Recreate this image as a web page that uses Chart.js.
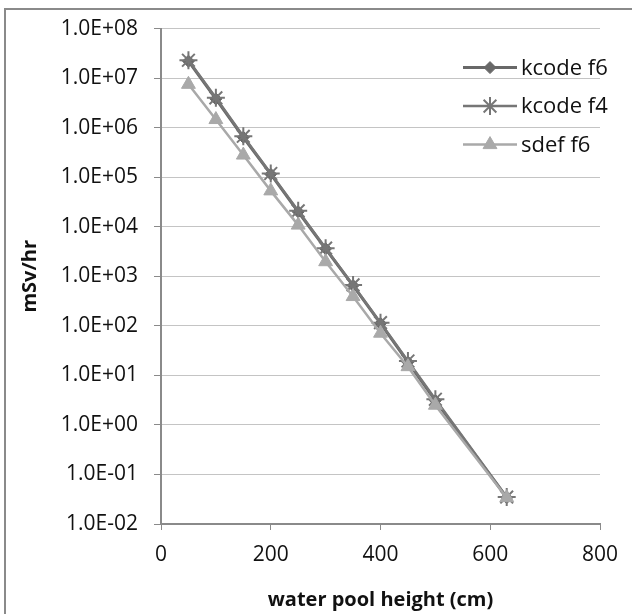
<!DOCTYPE html>
<html>
<head>
<meta charset="utf-8">
<script src="https://cdn.jsdelivr.net/npm/chart.js@4/dist/chart.umd.min.js"></script>
<style>
html, body { margin: 0; padding: 0; background: #fff; }
</style>
</head>
<body>
<canvas id="chart" width="632" height="614"></canvas>
<script>
// data
var heights = [50, 100, 150, 200, 250, 300, 350, 400, 450, 500, 630];
var kcodeF6 = [2.2e7, 3.8e6, 6.4e5, 1.15e5, 2.0e4, 3.6e3, 6.5e2, 112, 18.5, 3.1, 0.034];
var kcodeF4 = [2.3e7, 4.0e6, 6.7e5, 1.19e5, 2.1e4, 3.7e3, 6.7e2, 116, 19.5, 3.3, 0.035];
var sdefF6 = [7.5e6, 1.46e6, 2.8e5, 5.3e4, 1.08e4, 1.97e3, 3.9e2, 71, 15, 2.5, 0.034];
var yTicks = [1e-2, 1e-1, 1e0, 1e1, 1e2, 1e3, 1e4, 1e5, 1e6, 1e7, 1e8];
var xTicks = [0, 200, 400, 600, 800];

var FONT = "'Open Sans', 'DejaVu Sans', sans-serif";
var TEXT = '#111';

function points(ys) {
  return heights.map(function (h, i) { return { x: h, y: ys[i] }; });
}

// Excel style 1.0E+08
function sci(v) {
  var e = Math.round(Math.log10(v));
  var a = Math.abs(e);
  return '1.0E' + (e < 0 ? '-' : '+') + (a < 10 ? '0' + a : a);
}

// outer frame (only top and left edge show in the picture)
var framePlugin = {
  id: 'frame',
  beforeDraw: function (chart) {
    var ctx = chart.ctx;
    ctx.save();
    ctx.fillStyle = '#fff';
    ctx.fillRect(0, 0, chart.width, chart.height);
    ctx.strokeStyle = '#8a8a8a';
    ctx.lineWidth = 2;
    ctx.beginPath();
    ctx.moveTo(5, chart.height + 2);
    ctx.lineTo(5, 9);
    ctx.lineTo(chart.width + 2, 9);
    ctx.stroke();
    ctx.restore();
  }
};

// legend sitting inside the plot, top right
var legendPlugin = {
  id: 'insideLegend',
  afterDraw: function (chart) {
    var ctx = chart.ctx;
    var area = chart.chartArea;
    var x0 = area.right - 137;
    var y0 = area.top + 39;
    ctx.save();
    chart.data.datasets.forEach(function (ds, i) {
      var y = y0 + i * 38.5;
      ctx.strokeStyle = ds.borderColor;
      ctx.lineWidth = ds.borderWidth;
      ctx.beginPath();
      ctx.moveTo(x0, y);
      ctx.lineTo(x0 + 54, y);
      ctx.stroke();
      ctx.fillStyle = ds.pointBackgroundColor;
      ctx.strokeStyle = ds.pointBorderColor;
      ctx.lineWidth = ds.pointBorderWidth;
      Chart.helpers.drawPoint(ctx, {
        pointStyle: ds.pointStyle,
        radius: ds.pointRadius,
        borderWidth: ds.pointBorderWidth,
        rotation: 0
      }, x0 + 27, y);
      ctx.fillStyle = TEXT;
      ctx.font = '22px ' + FONT;
      ctx.textBaseline = 'middle';
      ctx.fillText(ds.label, x0 + 58, y + 1);
    });
    ctx.restore();
  }
};

var ctx = document.getElementById('chart').getContext('2d');
var chart = new Chart(ctx, {
  type: 'line',
  data: {
    datasets: [
      {
        label: 'kcode f6',
        data: points(kcodeF6),
        borderColor: '#686868',
        borderWidth: 3,
        pointStyle: 'rectRot',
        pointRadius: 6,
        pointBackgroundColor: '#686868',
        pointBorderColor: '#686868',
        pointBorderWidth: 1,
        order: 2
      },
      {
        label: 'kcode f4',
        data: points(kcodeF4),
        borderColor: '#767676',
        borderWidth: 2.5,
        pointStyle: 'star',
        pointRadius: 9,
        pointBackgroundColor: '#767676',
        pointBorderColor: '#767676',
        pointBorderWidth: 2,
        order: 1
      },
      {
        label: 'sdef f6',
        data: points(sdefF6),
        borderColor: '#a9a9a9',
        borderWidth: 2.5,
        pointStyle: 'triangle',
        pointRadius: 8,
        pointBackgroundColor: '#a9a9a9',
        pointBorderColor: '#a9a9a9',
        pointBorderWidth: 1,
        order: 0
      }
    ]
  },
  options: {
    responsive: false,
    animation: false,
    devicePixelRatio: 1,
    layout: { padding: { left: 18, top: 28, right: 32, bottom: 0 } },
    plugins: {
      legend: { display: false },
      tooltip: { enabled: false }
    },
    elements: { line: { tension: 0 } },
    scales: {
      x: {
        type: 'linear',
        min: 0,
        max: 800,
        afterBuildTicks: function (scale) {
          scale.ticks = xTicks.map(function (v) { return { value: v }; });
        },
        afterFit: function (scale) { scale.height = 90; },
        grid: {
          drawOnChartArea: false,
          drawTicks: true,
          tickLength: 6,
          tickColor: '#8a8a8a'
        },
        border: { color: '#8a8a8a', width: 2 },
        ticks: {
          color: TEXT,
          font: { family: FONT, size: 21 },
          padding: 12,
          maxRotation: 0
        },
        title: {
          display: true,
          text: 'water pool height (cm)',
          color: TEXT,
          font: { family: FONT, size: 20, weight: 'bold' },
          padding: { top: 4, bottom: 2 }
        }
      },
      y: {
        type: 'logarithmic',
        min: 1e-2,
        max: 1e8,
        afterBuildTicks: function (scale) {
          scale.ticks = yTicks.map(function (v) { return { value: v }; });
        },
        afterFit: function (scale) { scale.width = 143; },
        grid: {
          color: '#c4c4c4',
          lineWidth: 1,
          drawTicks: true,
          tickLength: 7,
          tickColor: '#8a8a8a'
        },
        border: { color: '#8a8a8a', width: 2 },
        ticks: {
          color: TEXT,
          font: { family: FONT, size: 21 },
          padding: 16,
          callback: function (v) { return sci(v); }
        },
        title: {
          display: true,
          text: 'mSv/hr',
          color: TEXT,
          font: { family: FONT, size: 20, weight: 'bold' },
          padding: 0
        }
      }
    }
  },
  plugins: [framePlugin, legendPlugin]
});
</script>
</body>
</html>
